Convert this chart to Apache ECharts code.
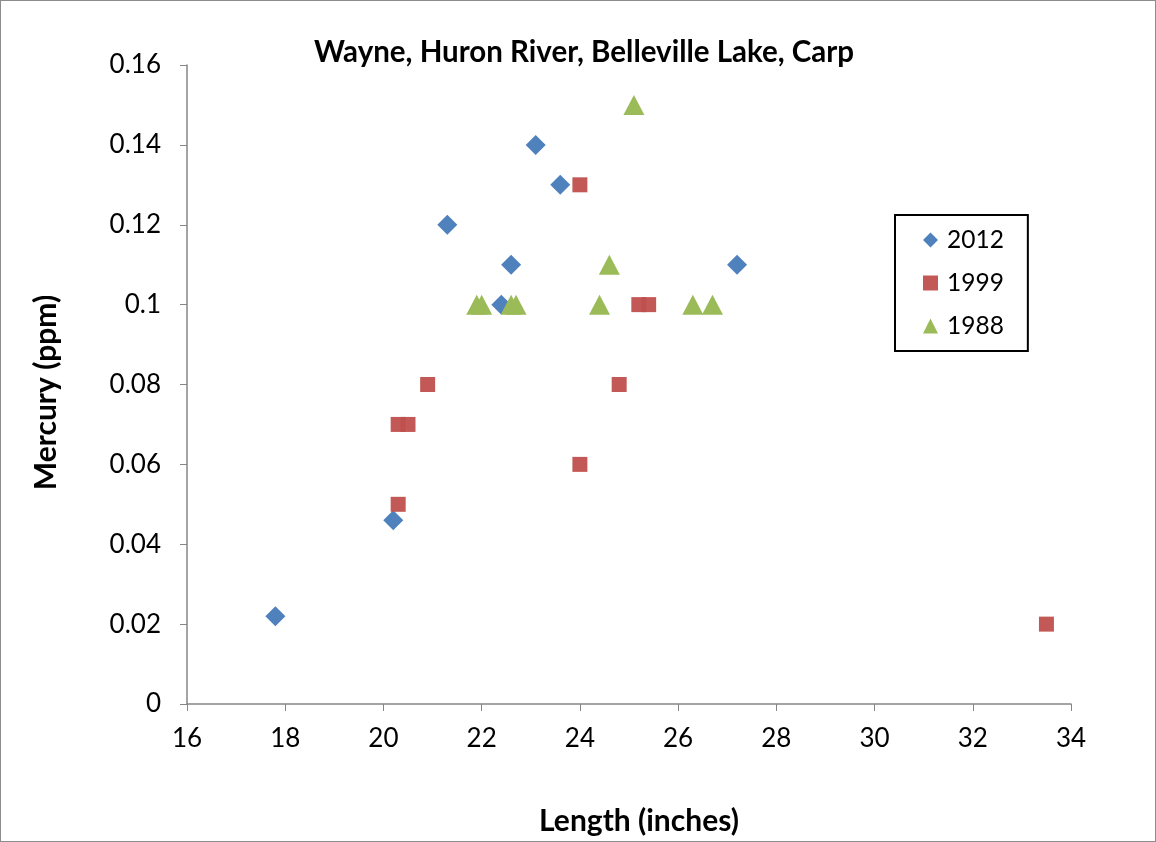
<!DOCTYPE html>
<html>
<head>
<meta charset="utf-8">
<script src="https://cdn.jsdelivr.net/npm/echarts@6/dist/echarts.min.js"></script>
<style>
  html, body { margin: 0; padding: 0; background: #fff; }
  #chart { width: 1154px; height: 840px; border: 1px solid #8c8c8c; }
</style>
</head>
<body>
<div id="chart"></div>
<script>
const seriesNames = ['2012', '1999', '1988'];
const len2012 = [17.8, 20.2, 21.3, 22.4, 22.6, 23.1, 23.6, 27.2];
const hg2012  = [0.022, 0.046, 0.12, 0.10, 0.11, 0.14, 0.13, 0.11];
const len1999 = [20.3, 20.3, 20.5, 20.9, 24.0, 24.0, 24.8, 25.2, 25.4, 33.5];
const hg1999  = [0.05, 0.07, 0.07, 0.08, 0.13, 0.06, 0.08, 0.10, 0.10, 0.02];
const len1988 = [21.9, 22.0, 22.6, 22.7, 24.4, 24.6, 25.1, 26.3, 26.7];
const hg1988  = [0.10, 0.10, 0.10, 0.10, 0.10, 0.11, 0.15, 0.10, 0.10];

const FONT = 'Lato, Carlito, "Open Sans", sans-serif';
const pair = (xs, ys) => xs.map((x, i) => [x, ys[i]]);

const chart = echarts.init(document.getElementById('chart'));
chart.setOption({
  animation: false,
  backgroundColor: '#fff',
  textStyle: { fontFamily: FONT },
  title: {
    text: 'Wayne, Huron River, Belleville Lake, Carp',
    left: 578, top: 31, textAlign: 'center',
    textStyle: { fontSize: 29.5, fontWeight: 'bold', color: '#000', fontFamily: FONT }
  },
  legend: {
    orient: 'vertical',
    left: 894, top: 214,
    padding: [12, 24, 12, 28],
    itemGap: 17,
    itemWidth: 15, itemHeight: 15,
    borderColor: '#000', borderWidth: 2,
    textStyle: { fontSize: 24.5, lineHeight: 26, color: '#000', fontFamily: FONT, padding: [0, 0, 0, 4] },
    data: seriesNames
  },
  grid: { left: 186, right: 84, top: 64, bottom: 136 },
  xAxis: {
    type: 'value', min: 16, max: 34, interval: 2,
    name: 'Length (inches)', nameLocation: 'middle', nameGap: 102,
    nameTextStyle: { fontSize: 30, fontWeight: 'bold', color: '#000', fontFamily: FONT, padding: [0, 0, 0, 20] },
    axisLine: { show: true, lineStyle: { color: '#868686', width: 1.5 } },
    axisTick: { show: true, length: 7, inside: false, lineStyle: { color: '#868686' } },
    axisLabel: { fontSize: 26, color: '#000', margin: 22, fontFamily: FONT },
    splitLine: { show: false }
  },
  yAxis: {
    type: 'value', min: 0, max: 0.16, interval: 0.02,
    name: 'Mercury (ppm)', nameLocation: 'middle', nameGap: 126,
    nameTextStyle: { fontSize: 30, fontWeight: 'bold', color: '#000', fontFamily: FONT, padding: [0, 16, 0, 0] },
    axisLine: { show: true, lineStyle: { color: '#868686', width: 1.5 } },
    axisTick: { show: true, length: 7, lineStyle: { color: '#868686' } },
    axisLabel: { fontSize: 26, color: '#000', margin: 26, fontFamily: FONT },
    splitLine: { show: false }
  },
  series: [
    { name: seriesNames[0], type: 'scatter', symbol: 'diamond', symbolSize: [20, 20],
      itemStyle: { color: '#4F81BD', opacity: 1 }, data: pair(len2012, hg2012) },
    { name: seriesNames[1], type: 'scatter', symbol: 'rect', symbolSize: [15, 15],
      itemStyle: { color: '#C0504D', opacity: 0.95 }, data: pair(len1999, hg1999) },
    { name: seriesNames[2], type: 'scatter', symbol: 'triangle', symbolSize: [21, 20],
      itemStyle: { color: '#9BBB59', opacity: 1 }, data: pair(len1988, hg1988) }
  ]
});
</script>
</body>
</html>
